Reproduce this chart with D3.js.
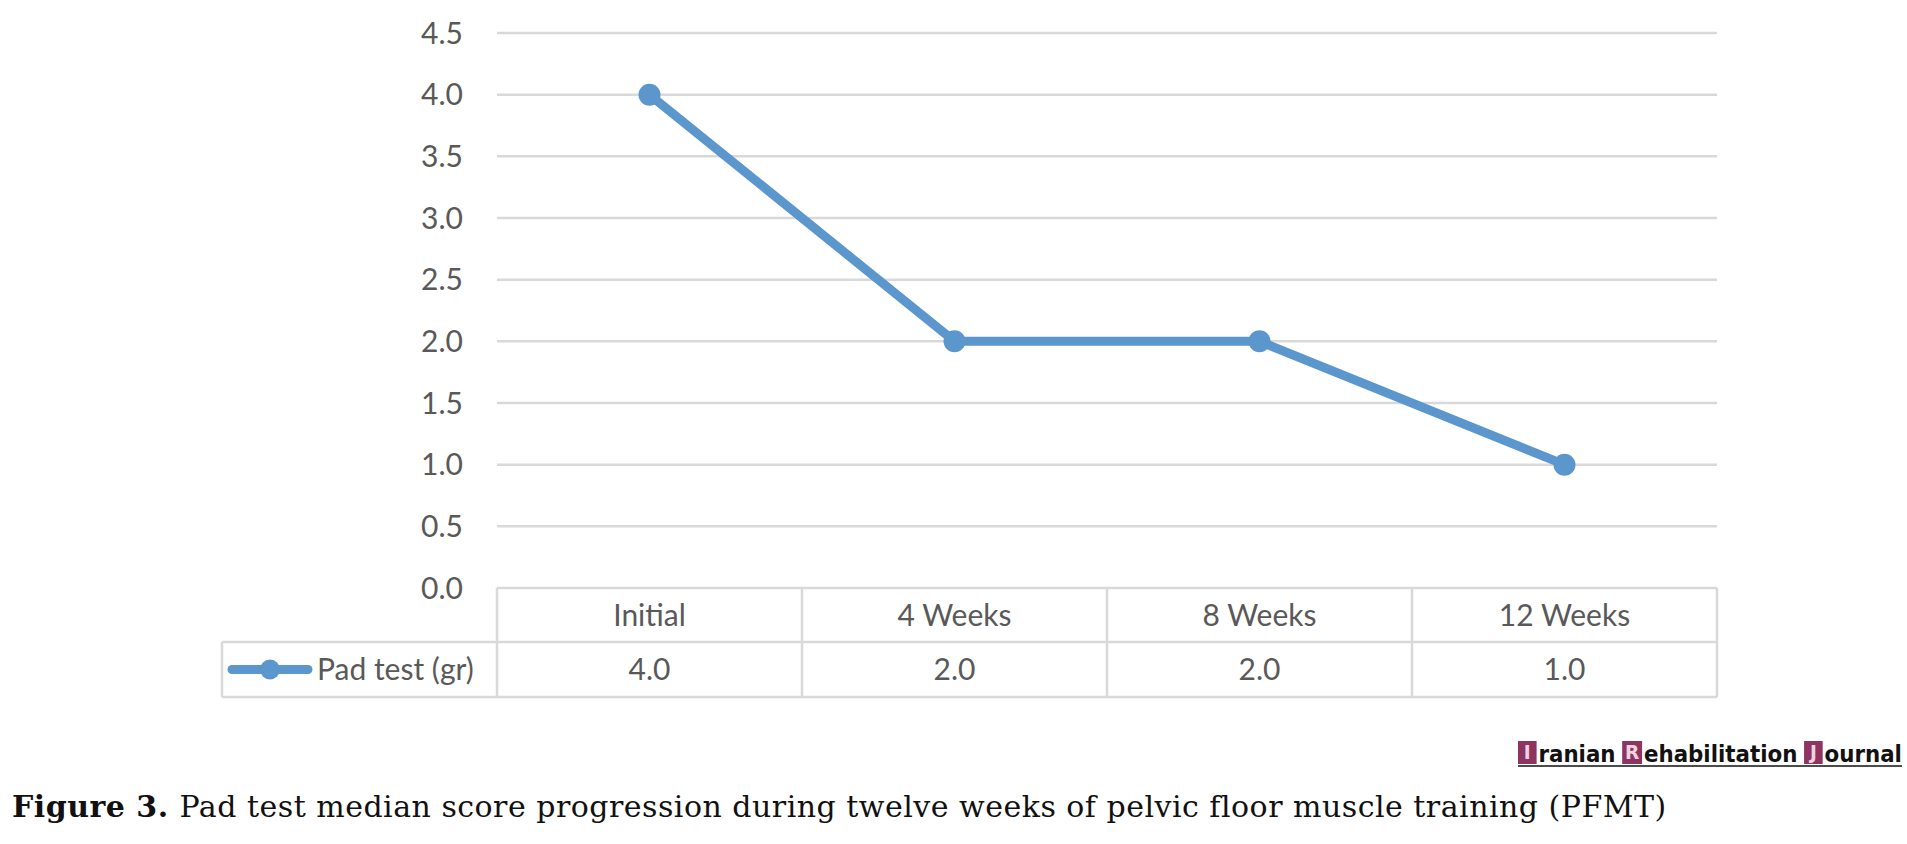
<!DOCTYPE html>
<html>
<head>
<meta charset="utf-8">
<script src="https://cdn.jsdelivr.net/npm/d3@7"></script>
<style>
  body { margin: 0; background: #fff; }
  svg { display: block; }
</style>
</head>
<body>
<svg width="1907" height="844"></svg>
<script>
const categories = ["Initial", "4 Weeks", "8 Weeks", "12 Weeks"];
const padTest = [4.0, 2.0, 2.0, 1.0];
const yTicks = [0, 0.5, 1.0, 1.5, 2.0, 2.5, 3.0, 3.5, 4.0, 4.5];
const seriesName = "Pad test (gr)";
const caption = "Pad test median score progression during twelve weeks of pelvic floor muscle training (PFMT)";

const svg = d3.select("svg");
const blue = "#5b96cc", grid = "#d9d9d9", txt = "#595959";
const font = "Lato, 'Open Sans', sans-serif";
const fs = 30;

const plotL = 497, plotR = 1717, plotT = 33, plotB = 588;
const tableLeft = 222, rowMid = 642, tableBottom = 697;

const x = d3.scaleBand().domain(categories).range([plotL, plotR]);
const y = d3.scaleLinear().domain([0, 4.5]).range([plotB, plotT]);

// gridlines
svg.selectAll("line.grid")
    .data(yTicks)
    .enter().append("line")
    .attr("x1", plotL).attr("x2", plotR)
    .attr("y1", d => y(d)).attr("y2", d => y(d))
    .attr("stroke", grid).attr("stroke-width", 2.5);

// y labels
svg.selectAll("text.ytick")
    .data(yTicks)
    .enter().append("text")
    .attr("x", 463).attr("y", d => y(d))
    .attr("dy", "0.36em")
    .attr("text-anchor", "end")
    .attr("font-family", font).attr("font-size", fs)
    .attr("fill", txt)
    .text(d => d.toFixed(1));

// data table lines
const vlines = categories.map(c => x(c)).concat([plotR]);
svg.selectAll("line.vl")
    .data(vlines)
    .enter().append("line")
    .attr("x1", d => d).attr("x2", d => d)
    .attr("y1", plotB).attr("y2", tableBottom)
    .attr("stroke", grid).attr("stroke-width", 2.5);
[rowMid, tableBottom].forEach(v => {
    svg.append("line")
        .attr("x1", tableLeft).attr("x2", plotR)
        .attr("y1", v).attr("y2", v)
        .attr("stroke", grid).attr("stroke-width", 2.5);
});
svg.append("line")
    .attr("x1", tableLeft).attr("x2", tableLeft)
    .attr("y1", rowMid).attr("y2", tableBottom)
    .attr("stroke", grid).attr("stroke-width", 2.5);

// category labels
svg.selectAll("text.cat")
    .data(categories)
    .enter().append("text")
    .attr("x", d => x(d) + x.bandwidth() / 2)
    .attr("y", (plotB + rowMid) / 2)
    .attr("dy", "0.36em")
    .attr("text-anchor", "middle")
    .attr("font-family", font).attr("font-size", fs)
    .attr("fill", txt)
    .text(d => d);

// values row
svg.selectAll("text.val")
    .data(padTest)
    .enter().append("text")
    .attr("x", (d, i) => x(categories[i]) + x.bandwidth() / 2)
    .attr("y", (rowMid + tableBottom) / 2)
    .attr("dy", "0.36em")
    .attr("text-anchor", "middle")
    .attr("font-family", font).attr("font-size", fs)
    .attr("fill", txt)
    .text(d => d.toFixed(1));

// legend key
const ky = (rowMid + tableBottom) / 2;
svg.append("line")
    .attr("x1", 232).attr("x2", 308)
    .attr("y1", ky).attr("y2", ky)
    .attr("stroke", blue).attr("stroke-width", 9)
    .attr("stroke-linecap", "round");
svg.append("circle")
    .attr("cx", 270).attr("cy", ky).attr("r", 10)
    .attr("fill", blue);
svg.append("text")
    .attr("x", 317).attr("y", ky)
    .attr("dy", "0.36em")
    .attr("font-family", font).attr("font-size", fs)
    .attr("fill", txt)
    .text(seriesName);

// series line
const line = d3.line()
    .x((d, i) => x(categories[i]) + x.bandwidth() / 2)
    .y(d => y(d));
svg.append("path")
    .datum(padTest)
    .attr("d", line)
    .attr("fill", "none")
    .attr("stroke", blue).attr("stroke-width", 9)
    .attr("stroke-linejoin", "round");
svg.selectAll("circle.pt")
    .data(padTest)
    .enter().append("circle")
    .attr("cx", (d, i) => x(categories[i]) + x.bandwidth() / 2)
    .attr("cy", d => y(d))
    .attr("r", 11)
    .attr("fill", blue);

// journal logo
const logo = svg.append("g").attr("transform", "translate(1518,762)");
const maroon = "#8e3461";
const parts = [["I", true], ["ranian", false], ["R", true], ["ehabilitation", false], ["J", true], ["ournal", false]];
const lfs = 23, gap = 7;
let lx = 0;
parts.forEach(([s, boxed], i) => {
    if (boxed && i > 0) lx += gap;
    const t = logo.append("text")
        .attr("y", boxed ? -3 : 0)
        .attr("font-family", "'DejaVu Sans', sans-serif")
        .attr("font-weight", "bold").attr("font-size", boxed ? 20 : lfs)
        .attr("fill", boxed ? "#ecd3df" : "#111")
        .text(s);
    let w = t.node().getComputedTextLength();
    if (boxed) {
        const bw = Math.max(w + 6, 20);
        logo.insert("rect", "text").attr("x", lx).attr("y", -21).attr("width", bw).attr("height", 23)
            .attr("fill", maroon);
        t.attr("x", lx + (bw - w) / 2);
        w = bw + 2;
    } else {
        t.attr("x", lx);
    }
    lx += w;
});
logo.append("line").attr("x1", 0).attr("x2", lx).attr("y1", 4).attr("y2", 4)
    .attr("stroke", "#111").attr("stroke-width", 1.5);
// fit logo to its width in the figure
const lw = 384;
logo.attr("transform", `translate(1518,762) scale(${lw / lx},1)`);

// caption
const cap = svg.append("text")
    .attr("x", 12).attr("y", 817)
    .attr("font-family", "'DejaVu Serif', 'Liberation Serif', serif")
    .attr("font-size", 30)
    .attr("fill", "#111");
cap.append("tspan").attr("font-weight", "bold").text("Figure 3. ");
cap.append("tspan").text(caption);
const cw = cap.node().getComputedTextLength();
const nch = ("Figure 3. " + caption).length;
cap.attr("letter-spacing", (1654 - cw) / nch);
</script>
</body>
</html>
